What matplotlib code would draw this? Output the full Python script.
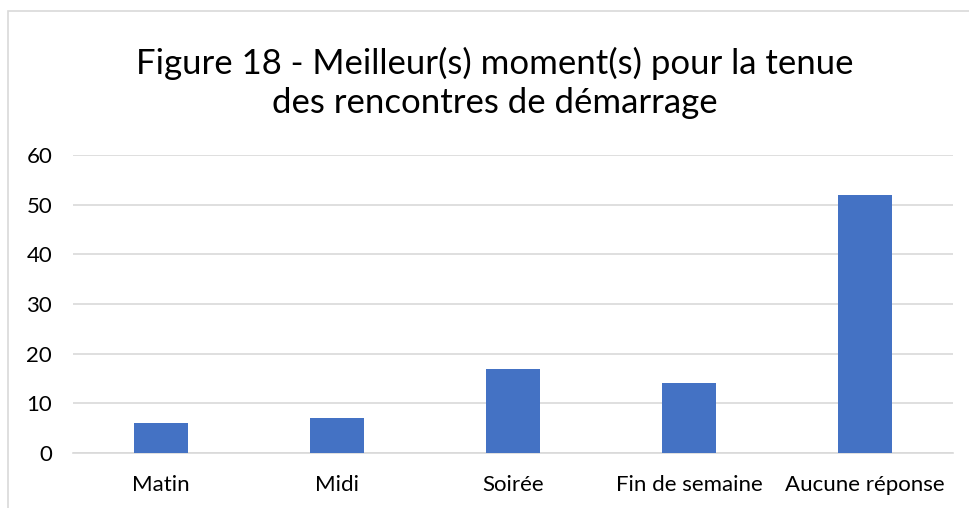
import matplotlib
matplotlib.use("Agg")
import matplotlib.pyplot as plt
from matplotlib.patches import Rectangle

categories = ["Matin", "Midi", "Soirée", "Fin de semaine", "Aucune réponse"]
values = [6, 7, 17, 14, 52]
yticks = [0, 10, 20, 30, 40, 50, 60]
title = "Figure 18 - Meilleur(s) moment(s) pour la tenue\ndes rencontres de démarrage"

plt.rcParams['font.family'] = ['Lato', 'DejaVu Sans']

W, H = 970, 508
fig = plt.figure(figsize=(W / 100, H / 100), dpi=100)
fig.patch.set_facecolor("white")

# figure border (left and top visible)
fig.add_artist(Rectangle((8 / W, -0.05), 1.0, (H - 11) / H + 0.05,
                         transform=fig.transFigure, fill=False,
                         edgecolor="#d9d9d9", linewidth=1.2))

left, right = 73 / W, 953 / W
bottom, top = 1 - 453 / H, 1 - 155 / H
ax = fig.add_axes([left, bottom, right - left, top - bottom])

x = list(range(len(categories)))
ax.bar(x, values, width=0.31, color="#4472C4", zorder=3)
ax.set_xlim(-0.5, len(categories) - 0.5)
ax.set_ylim(0, 60)
ax.set_yticks(yticks)
ax.set_xticks(x)
ax.set_xticklabels(categories, fontsize=16, color="#000000")
ax.tick_params(axis="y", labelsize=16, length=0, pad=15, colors="#000000")
ax.tick_params(axis="x", length=0, pad=16)
ax.yaxis.grid(True, color="#d9d9d9", linewidth=1.2, zorder=0)
for s in ["top", "right", "left"]:
    ax.spines[s].set_visible(False)
ax.spines["bottom"].set_color("#d9d9d9")
ax.spines["bottom"].set_linewidth(1.2)

fig.text(0.51, 1 - 83 / H, title, ha="center", va="center", fontsize=25,
         linespacing=1.3, color="#000000")

fig.savefig("out.png", dpi=100)
